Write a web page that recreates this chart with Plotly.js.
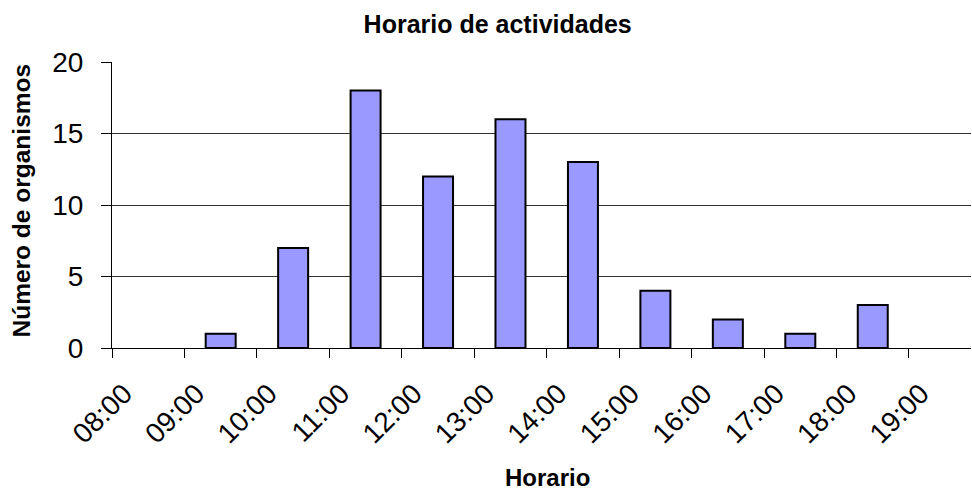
<!DOCTYPE html>
<html>
<head>
<meta charset="utf-8">
<script src="https://cdn.plot.ly/plotly-3.0.1.min.js"></script>
<style>
  html, body { margin: 0; padding: 0; background: #fff; }
  #graph { width: 972px; height: 491px; }
</style>
</head>
<body>
<div id="graph"></div>
<script>
// horas de inicio de cada intervalo (etiquetas del eje x)
var horas = ['08:00', '09:00', '10:00', '11:00', '12:00', '13:00',
             '14:00', '15:00', '16:00', '17:00', '18:00', '19:00'];
// organismos observados en cada intervalo de una hora
var organismos = [0, 1, 7, 18, 12, 16, 13, 4, 2, 1, 3];

var yTicks = [0, 5, 10, 15, 20];

function graphplot() {
    var tickPos = horas.map(function (h, i) { return 8 + i; });

    var barX = [];
    var barY = [];
    for (var i = 0; i < organismos.length; i++) {
        if (organismos[i] > 0) {
            barX.push(tickPos[i] + 0.5);
            barY.push(organismos[i]);
        }
    }

    var bars = {
        x: barX,
        y: barY,
        type: 'bar',
        width: 0.414,
        marker: {
            color: '#9999FF',
            line: { color: '#000000', width: 2 }
        },
        hoverinfo: 'x+y',
        showlegend: false
    };

    var font = 'Liberation Sans, Arial, sans-serif';

    var frame = {
        width: 972,
        height: 491,
        margin: { l: 112, r: 1, t: 62, b: 143, pad: 0 },
        paper_bgcolor: '#ffffff',
        plot_bgcolor: '#ffffff',
        font: { family: font, color: '#000000' },
        title: {
            text: 'Horario de actividades',
            font: { family: font, size: 25, weight: 'bold', color: '#000000' },
            xref: 'container',
            x: 0.512,
            xanchor: 'center',
            yref: 'container',
            y: 1 - 24 / 491,
            yanchor: 'middle'
        },
        xaxis: {
            range: [8, 19.856],
            tickvals: tickPos,
            ticktext: horas,
            tickangle: -45,
            tickfont: { family: font, size: 28 },
            ticks: 'outside',
            ticklen: 9,
            tickwidth: 1,
            tickcolor: '#000000',
            ticklabelshift: 12,
            ticklabelstandoff: 8,
            showline: true,
            linecolor: '#000000',
            linewidth: 1,
            showgrid: false,
            zeroline: false,
            fixedrange: true
        },
        yaxis: {
            range: [0, 20],
            tickvals: yTicks,
            tickfont: { family: font, size: 28 },
            ticks: 'outside',
            ticklen: 10,
            tickwidth: 1,
            tickcolor: '#000000',
            ticklabelstandoff: 12,
            showline: true,
            linecolor: '#000000',
            linewidth: 1,
            showgrid: true,
            gridcolor: '#333333',
            gridwidth: 1,
            zeroline: false,
            fixedrange: true
        },
        annotations: [
            {
                text: 'Horario',
                xref: 'paper', yref: 'paper',
                x: 0.507, y: -(478 - 348.3) / 286.6,
                xanchor: 'center', yanchor: 'middle',
                showarrow: false,
                font: { family: font, size: 24, weight: 'bold' }
            },
            {
                text: 'Número de organismos',
                xref: 'paper', yref: 'paper',
                x: (22 - 112) / 859, y: (348.3 - 200.5) / 286.6,
                xanchor: 'center', yanchor: 'middle',
                textangle: -90,
                showarrow: false,
                font: { family: font, size: 24.5, weight: 'bold' }
            }
        ],
        bargap: 0
    };

    Plotly.newPlot('graph', [bars], frame, { displayModeBar: false, staticPlot: true });
}

graphplot();
</script>
</body>
</html>
